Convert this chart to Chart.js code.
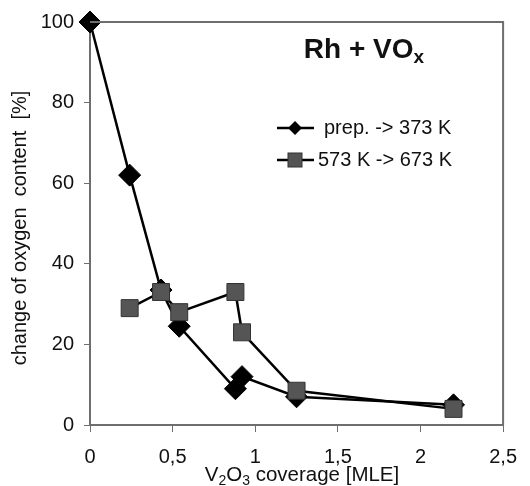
<!DOCTYPE html>
<html>
<head>
<meta charset="utf-8">
<script src="https://cdn.jsdelivr.net/npm/chart.js@4/dist/chart.umd.min.js"></script>
<style>
  html, body { margin: 0; padding: 0; background: #ffffff; }
  #wrap { width: 530px; height: 486px; }
</style>
</head>
<body>
<div id="wrap"><canvas id="chart" width="530" height="486"></canvas></div>
<script>
// V2O3 coverage [MLE] for each measurement
const coverage = [0, 0.24, 0.43, 0.54, 0.88, 0.92, 1.25, 2.2];
// change of oxygen content [%], prep. -> 373 K
const prepTo373 = [100, 62, 33.5, 24.5, 9, 12, 7, 5];
// change of oxygen content [%], 573 K -> 673 K (no value at zero coverage)
const from573To673 = [null, 29, 33, 28, 33, 23, 8.5, 4];

const xTicks = [0, 0.5, 1, 1.5, 2, 2.5];
const yTicks = [0, 20, 40, 60, 80, 100];

const FONT = '"Liberation Sans", Arial, sans-serif';
const AXIS_GREY = '#6e6e6e';

function toPoints(values) {
  return coverage.map((x, i) => ({ x: x, y: values[i] }))
    .filter(p => p.y !== null);
}

// draws the text with a subscript part, e.g. ['V', '2', 'O', '3', ' coverage [MLE]']
function drawRich(ctx, parts, x, y, size, weight) {
  const subSize = Math.round(size * 0.68);
  let total = 0;
  parts.forEach(p => {
    ctx.font = `${weight} ${p.sub ? subSize : size}px ${FONT}`;
    total += ctx.measureText(p.t).width;
  });
  let cx = x - total / 2;
  parts.forEach(p => {
    ctx.font = `${weight} ${p.sub ? subSize : size}px ${FONT}`;
    ctx.fillText(p.t, cx, p.sub ? y + size * 0.28 : y);
    cx += ctx.measureText(p.t).width;
  });
}

const decorations = {
  id: 'decorations',
  afterDraw(chart) {
    const { ctx, chartArea } = chart;
    ctx.save();

    // top and right frame lines
    ctx.strokeStyle = AXIS_GREY;
    ctx.lineWidth = 2;
    ctx.beginPath();
    ctx.moveTo(chartArea.left, chartArea.top);
    ctx.lineTo(chartArea.right, chartArea.top);
    ctx.lineTo(chartArea.right, chartArea.bottom);
    ctx.stroke();

    ctx.fillStyle = '#111111';
    ctx.textBaseline = 'middle';

    // panel title
    drawRich(ctx, [{ t: 'Rh + VO' }, { t: 'x', sub: true }], 364, 50, 28, 'bold');

    // axis titles
    drawRich(ctx, [
      { t: 'V' }, { t: '2', sub: true }, { t: 'O' }, { t: '3', sub: true },
      { t: ' coverage [MLE]' }
    ], 302, 475, 20.5, 'normal');

    ctx.save();
    ctx.translate(20, 228);
    ctx.rotate(-Math.PI / 2);
    ctx.font = `20px ${FONT}`;
    ctx.textAlign = 'center';
    ctx.fillText('change of oxygen  content  [%]', 0, 0);
    ctx.restore();

    // legend
    const rows = [
      { label: 'prep. -> 373 K', y: 128, square: false, textX: 324 },
      { label: '573 K -> 673 K', y: 160, square: true, textX: 318 }
    ];
    rows.forEach(r => {
      ctx.strokeStyle = '#000000';
      ctx.lineWidth = 2.5;
      ctx.beginPath();
      ctx.moveTo(277, r.y);
      ctx.lineTo(314, r.y);
      ctx.stroke();
      if (r.square) {
        ctx.fillStyle = '#555555';
        ctx.strokeStyle = '#333333';
        ctx.lineWidth = 1;
        ctx.fillRect(288, r.y - 7, 14, 14);
        ctx.strokeRect(288, r.y - 7, 14, 14);
      } else {
        ctx.fillStyle = '#000000';
        ctx.beginPath();
        ctx.moveTo(295, r.y - 7);
        ctx.lineTo(302, r.y);
        ctx.lineTo(295, r.y + 7);
        ctx.lineTo(288, r.y);
        ctx.closePath();
        ctx.fill();
      }
      ctx.fillStyle = '#111111';
      ctx.font = `20px ${FONT}`;
      ctx.textAlign = 'left';
      ctx.fillText(r.label, r.textX, r.y);
    });

    ctx.restore();
  }
};

// the square series sits on top of the diamond series
new Chart(document.getElementById('chart'), {
  type: 'scatter',
  data: {
    datasets: [
      {
        label: '573 K -> 673 K',
        data: toPoints(from573To673),
        showLine: true,
        clip: false,
        borderColor: '#000000',
        borderWidth: 2.5,
        pointStyle: 'rect',
        pointRadius: 12,
        pointBackgroundColor: '#555555',
        pointBorderColor: '#333333',
        pointBorderWidth: 1,
        order: 0
      },
      {
        label: 'prep. -> 373 K',
        data: toPoints(prepTo373),
        showLine: true,
        clip: false,
        borderColor: '#000000',
        borderWidth: 2.5,
        pointStyle: 'rectRot',
        pointRadius: 11,
        pointBackgroundColor: '#000000',
        pointBorderColor: '#000000',
        pointBorderWidth: 1,
        order: 1
      }
    ]
  },
  options: {
    responsive: false,
    animation: false,
    layout: { padding: { top: 21, right: 17, left: 0, bottom: 0 } },
    plugins: {
      legend: { display: false },
      tooltip: { enabled: false }
    },
    scales: {
      x: {
        type: 'linear',
        min: 0,
        max: 2.5,
        afterFit: s => { s.height = 61; },
        afterBuildTicks: s => { s.ticks = xTicks.map(v => ({ value: v })); },
        border: { color: AXIS_GREY, width: 2 },
        grid: { drawOnChartArea: false, color: AXIS_GREY, tickLength: 7 },
        ticks: {
          color: '#111111',
          padding: 13,
          maxRotation: 0,
          font: { family: FONT, size: 20 },
          callback: v => String(v).replace('.', ',')
        }
      },
      y: {
        type: 'linear',
        min: 0,
        max: 100,
        afterFit: s => { s.width = 90; },
        afterBuildTicks: s => { s.ticks = yTicks.map(v => ({ value: v })); },
        border: { color: AXIS_GREY, width: 2 },
        grid: { drawOnChartArea: false, color: AXIS_GREY, tickLength: 6 },
        ticks: {
          color: '#111111',
          padding: 10,
          font: { family: FONT, size: 20 }
        }
      }
    }
  },
  plugins: [decorations]
});
</script>
</body>
</html>
